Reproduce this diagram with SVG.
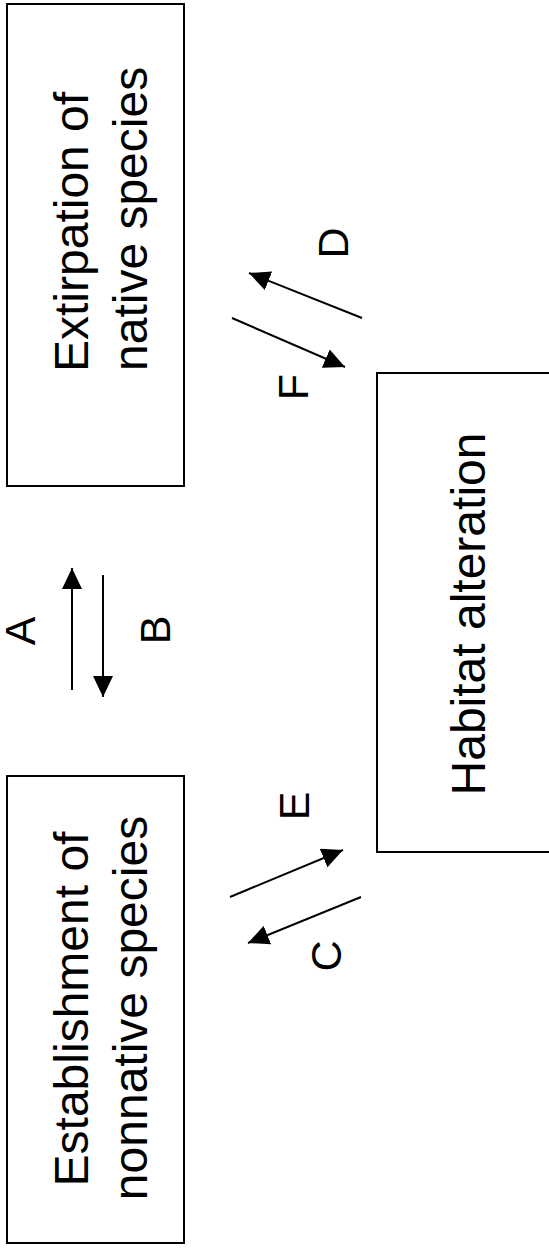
<svg xmlns="http://www.w3.org/2000/svg" width="549" height="1257" viewBox="0 0 549 1257">
<style>
.box{fill:#fff;stroke:#000;stroke-width:2}
.t{font-family:"Liberation Sans",Arial,sans-serif;font-size:48px;fill:#000}
.l{font-family:"Liberation Sans",Arial,sans-serif;font-size:43px;fill:#000;text-anchor:middle}
.c{stroke:#000;stroke-width:2;fill:none;marker-end:url(#ah)}
</style>
<defs>
<marker id="ah" markerUnits="userSpaceOnUse" markerWidth="22" markerHeight="20" refX="21" refY="10" orient="auto">
<path d="M0,0 L21,10 L0,20 z" fill="#000"/>
</marker>
</defs>
<rect width="549" height="1257" fill="#fff"/>
<g id="extirpation">
<rect class="box" x="7" y="4" width="177" height="482"/>
<text class="t" transform="translate(88,372) rotate(-90)">Extirpation of</text>
<text class="t" transform="translate(147,371) rotate(-90)">native species</text>
</g>
<g id="establishment">
<rect class="box" x="7" y="776" width="177" height="467"/>
<text class="t" text-anchor="middle" transform="translate(88,1009) rotate(-90)">Establishment of</text>
<text class="t" text-anchor="middle" transform="translate(147,1008) rotate(-90)">nonnative species</text>
</g>
<g id="habitat">
<rect class="box" x="377" y="373" width="200" height="479"/>
<text class="t" text-anchor="middle" transform="translate(485,614) rotate(-90)">Habitat alteration</text>
</g>
<g id="connectors">
<line class="c" x1="72" y1="690" x2="72" y2="568"/>
<line class="c" x1="103" y1="575" x2="103" y2="697"/>
<line class="c" x1="362" y1="318" x2="249" y2="273"/>
<line class="c" x1="232" y1="318" x2="345" y2="367"/>
<line class="c" x1="230" y1="897" x2="343" y2="850"/>
<line class="c" x1="361" y1="897" x2="248" y2="943"/>
<text class="l" transform="translate(35,631) rotate(-90)">A</text>
<text class="l" transform="translate(170,630) rotate(-90)">B</text>
<text class="l" transform="translate(341,956) rotate(-90)">C</text>
<text class="l" transform="translate(348,243) rotate(-90)">D</text>
<text class="l" transform="translate(309,806) rotate(-90)">E</text>
<text class="l" transform="translate(308,387) rotate(-90)">F</text>
</g>
</svg>
